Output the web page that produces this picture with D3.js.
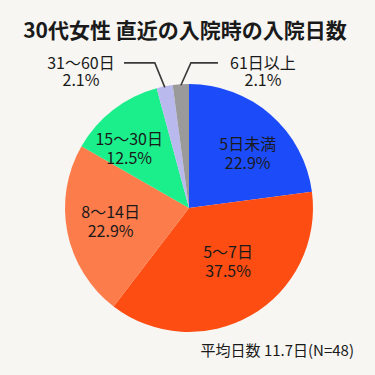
<!DOCTYPE html>
<html><head><meta charset="utf-8">
<script src="https://cdn.jsdelivr.net/npm/d3@7"></script>
<style>
html,body{margin:0;padding:0;background:#f7f6f2;}
svg{display:block;}
text{font-family:"Noto Sans CJK JP","Noto Sans",sans-serif;fill:#1a1a1a;}
</style></head>
<body>
<script>
const title = "30代女性 直近の入院時の入院日数";
const categories = ["5日未満","5〜7日","8〜14日","15〜30日","31〜60日","61日以上"];
const values = [22.9, 37.5, 22.9, 12.5, 2.1, 2.1];
const valueLabels = ["22.9%","37.5%","22.9%","12.5%","2.1%","2.1%"];
const colors = ["#1c4cfa","#fd4d12","#fd7c4b","#1aef8c","#b9b9ee","#9a9a9a"];
const outside = [false,false,false,false,true,true];
const note = "平均日数 11.7日(N=48)";

const W = 375, H = 375;
const cx = 189, cy = 208, R = 124;
const nudge = [[6,5],[-1,-16],[0,-3],[-11,3],[0,0],[0,0]];

const svg = d3.select("body").append("svg").attr("width",W).attr("height",H);
svg.append("rect").attr("width",W).attr("height",H).attr("fill","#f7f6f2");

svg.append("text").attr("x",185).attr("y",38).attr("text-anchor","middle")
  .attr("font-size",21).attr("font-weight","bold").text(title);

const data = categories.map((c,i)=>({cat:c,value:values[i],label:valueLabels[i],color:colors[i],out:outside[i],i}));
const pie = d3.pie().sort(null).value(d=>d.value);
const arcs = pie(data);
const arc = d3.arc().innerRadius(0).outerRadius(R);
const g = svg.append("g").attr("transform",`translate(${cx},${cy})`);
g.selectAll("path").data(arcs).join("path").attr("d",arc).attr("fill",d=>d.data.color);

const labelArc = d3.arc().innerRadius(R*0.645).outerRadius(R*0.645);
const inner = arcs.filter(d=>!d.data.out);
inner.forEach(d=>{
  const c = labelArc.centroid(d); const n = nudge[d.data.i];
  const x = c[0]+n[0], y = c[1]+n[1];
  g.append("text").attr("x",x).attr("y",y-3).attr("text-anchor","middle").attr("font-size",16).text(d.data.cat);
  g.append("text").attr("x",x).attr("y",y+16).attr("text-anchor","middle").attr("font-size",16).text(d.data.label);
});

// outside labels with leader lines
const outs = arcs.filter(d=>d.data.out);
const edgeArc = d3.arc().innerRadius(R-1).outerRadius(R-1);
const elbowY = -R*1.17;
const labelX = [-108, 74];
const lineEnd = [-65, 29];
outs.forEach((d,k)=>{
  const p = edgeArc.centroid(d);
  const dir = k===0?-1:1;
  const ex = p[0]+dir*10;
  g.append("path").attr("fill","none").attr("stroke","#3a3a3a").attr("stroke-width",1.6)
    .attr("d",d3.line()([[p[0],p[1]],[ex,elbowY],[lineEnd[k],elbowY]]));
  g.append("text").attr("x",labelX[k]).attr("y",elbowY+6).attr("text-anchor","middle").attr("font-size",16).text(d.data.cat);
  g.append("text").attr("x",labelX[k]).attr("y",elbowY+23).attr("text-anchor","middle").attr("font-size",16).text(d.data.label);
});

svg.append("text").attr("x",354).attr("y",356).attr("text-anchor","end")
  .attr("font-size",15).text(note);
</script>
</body></html>
